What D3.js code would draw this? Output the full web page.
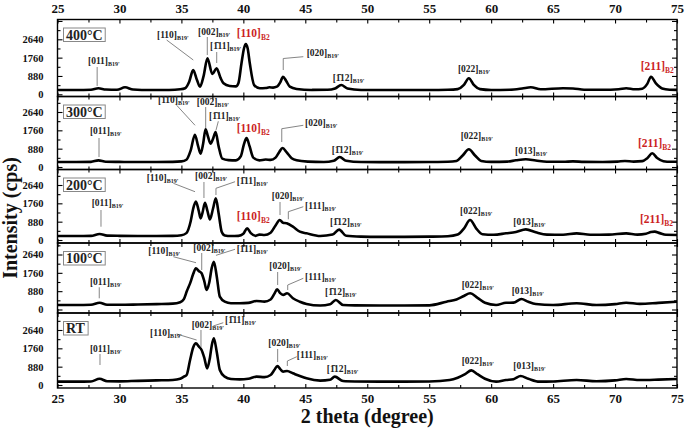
<!DOCTYPE html>
<html>
<head>
<meta charset="utf-8">
<script src="https://cdn.jsdelivr.net/npm/d3@7"></script>
<style>
  body { margin: 0; background: #fff; }
  svg text { font-family: "Liberation Serif", "Times New Roman", serif; font-weight: bold; }
</style>
</head>
<body>
<svg id="chart" width="685" height="432"></svg>
<script>
// sample names, top to bottom
var panelNames = ["400°C", "300°C", "200°C", "100°C", "RT"];

// 2 theta (degree) and intensity (cps)
var theta400 = [25, 26.5, 27.7, 28.3, 28.9, 29.8, 30.45, 31.1, 32.5, 34.0, 34.9, 35.3, 35.63, 35.95, 36.25, 36.5, 36.8, 37.1, 37.5, 37.84, 38.15, 38.4, 38.9, 39.4, 39.6, 39.85, 40.05, 40.2, 40.35, 40.52, 40.87, 41.33, 41.8, 42.1, 42.4, 42.7, 43.0, 43.2, 43.45, 43.75, 44.3, 45.5, 46.8, 47.4, 47.9, 48.4, 49.5, 51, 53, 55, 56.5, 57.3, 57.8, 58.2, 58.6, 59.1, 60, 61.5, 62.5, 63.2, 64, 65.8, 66.6, 67.5, 69, 70.3, 70.9, 71.6, 72.2, 72.6, 72.9, 73.3, 73.8, 74.4, 75];
var int400 = [205, 205, 215, 290, 230, 215, 335, 230, 205, 210, 240, 290, 605, 1165, 700, 365, 900, 1730, 975, 1250, 800, 530, 400, 380, 530, 1490, 2200, 2415, 2200, 1490, 445, 290, 300, 335, 320, 365, 600, 845, 650, 365, 255, 210, 215, 280, 445, 280, 210, 205, 205, 205, 215, 250, 450, 770, 450, 250, 210, 220, 280, 340, 240, 290, 280, 220, 215, 240, 290, 240, 270, 500, 845, 520, 280, 220, 210];

var theta300 = [25, 26.5, 27.7, 28.3, 28.9, 30, 31.5, 33, 34.3, 35.0, 35.4, 35.75, 36.09, 36.35, 36.55, 36.75, 36.95, 37.15, 37.35, 37.55, 37.76, 38.0, 38.3, 38.8, 39.4, 39.8, 40.05, 40.26, 40.5, 40.8, 41.3, 41.8, 42.2, 42.6, 42.9, 43.16, 43.5, 43.9, 44.3, 45.2, 46.5, 47.3, 47.78, 48.3, 49.5, 51, 53, 55, 56.5, 57.2, 57.7, 58.2, 58.7, 59.2, 60, 61.3, 62.0, 62.8, 63.6, 64.5, 65.8, 66.6, 67.5, 69, 70.2, 70.8, 71.5, 72.2, 72.6, 73.0, 73.4, 73.9, 74.5, 75];
var int300 = [240, 240, 245, 320, 250, 245, 240, 240, 245, 270, 350, 800, 1550, 1000, 640, 1100, 1810, 1450, 1120, 1350, 1680, 1000, 400, 330, 320, 520, 1100, 1390, 1000, 450, 320, 360, 340, 450, 720, 910, 700, 420, 320, 260, 240, 300, 480, 300, 240, 235, 235, 240, 250, 290, 550, 850, 550, 290, 245, 260, 320, 370, 310, 250, 250, 270, 245, 240, 260, 290, 260, 280, 420, 660, 430, 280, 250, 250];

var theta200 = [25, 26.5, 27.7, 28.4, 29.0, 30, 31.5, 33, 34.3, 35.0, 35.4, 35.75, 35.95, 36.17, 36.4, 36.55, 36.7, 36.9, 37.1, 37.3, 37.55, 37.78, 38.0, 38.25, 38.5, 39.0, 39.6, 40.0, 40.3, 40.6, 41.0, 41.3, 41.7, 42.2, 42.6, 42.94, 43.2, 43.5, 44.0, 44.56, 45.1, 46.2, 47.2, 47.73, 48.3, 49.5, 51, 53, 55, 56.5, 57.3, 57.8, 58.3, 58.8, 59.3, 60.2, 61.2, 62.0, 62.8, 63.6, 64.5, 65.8, 66.9, 68, 69.5, 70.9, 71.8, 72.5, 72.9, 73.2, 73.6, 74.1, 75];
var int200 = [190, 190, 200, 290, 210, 200, 195, 195, 200, 230, 330, 900, 1500, 1840, 1400, 1040, 1300, 1790, 1400, 990, 1500, 2000, 1300, 400, 220, 190, 200, 300, 560, 330, 200, 260, 240, 350, 700, 960, 830, 800, 640, 400, 320, 190, 260, 500, 200, 160, 150, 150, 160, 180, 260, 550, 960, 550, 280, 250, 320, 380, 510, 370, 260, 250, 320, 250, 260, 320, 260, 300, 380, 400, 330, 250, 240];

var theta100 = [25, 26.5, 27.7, 28.4, 29.0, 30, 31.5, 33, 34.3, 34.9, 35.2, 35.45, 35.7, 35.95, 36.17, 36.4, 36.63, 36.85, 37.03, 37.25, 37.45, 37.62, 37.85, 38.1, 38.5, 39.0, 39.7, 40.4, 41.06, 41.7, 42.2, 42.5, 42.73, 42.95, 43.21, 43.53, 44.0, 44.56, 45.1, 46.2, 47.0, 47.46, 48.05, 49, 51, 53, 55, 56.4, 57.2, 57.8, 58.3, 58.9, 59.5, 60.4, 61.2, 61.8, 62.44, 63.0, 63.6, 65, 66.9, 68.5, 70.0, 70.9, 72, 73.5, 75];
var int100 = [215, 215, 225, 325, 230, 225, 240, 260, 280, 350, 500, 900, 1255, 1700, 1975, 1850, 1740, 1350, 935, 1300, 2000, 2295, 1600, 615, 375, 300, 300, 320, 410, 380, 480, 750, 970, 800, 700, 780, 540, 375, 265, 190, 250, 455, 215, 200, 195, 195, 200, 375, 480, 650, 780, 560, 320, 215, 325, 330, 505, 370, 265, 215, 300, 215, 260, 325, 270, 320, 375];

var thetaRT = [25, 26.5, 27.7, 28.4, 29.0, 30, 31.5, 33, 34.3, 34.9, 35.2, 35.42, 35.7, 35.95, 36.17, 36.4, 36.63, 36.85, 37.08, 37.3, 37.45, 37.62, 37.85, 38.1, 38.5, 39.0, 39.7, 40.4, 41.06, 41.7, 42.2, 42.5, 42.75, 42.98, 43.21, 43.53, 44.0, 44.56, 45.1, 46.2, 47.0, 47.38, 48.05, 49, 51, 53, 55, 56.65, 57.3, 57.9, 58.4, 58.9, 59.5, 60.4, 61.2, 61.8, 62.38, 63.0, 63.9, 65, 66.9, 68.5, 70.0, 70.9, 72, 73.5, 75];
var intRT = [160, 160, 170, 300, 180, 175, 200, 220, 240, 300, 400, 480, 1200, 1800, 2000, 1850, 1680, 1300, 800, 1300, 1900, 2240, 1600, 720, 400, 290, 270, 300, 400, 380, 480, 720, 910, 760, 640, 670, 560, 430, 320, 210, 250, 400, 190, 170, 160, 160, 170, 240, 350, 520, 700, 520, 300, 160, 240, 280, 430, 300, 160, 170, 240, 180, 220, 290, 240, 260, 290];

var thetas = [theta400, theta300, theta200, theta100, thetaRT];
var intensities = [int400, int300, int200, int100, intRT];

// peak labels: [hkl, phase, label 2theta, label cps, leader line points]
var labels400 = [
  ["[011]", "B19'", 27.46, 1455, [[28.2, 400], [28.2, 1310]]],
  ["[110]", "B19'", 33.03, 2700, [[33.81, 2606], [35.96, 1646]]],
  ["[002]", "B19'", 36.34, 2846, [[37.09, 2750], [37.09, 1886]]],
  ["[1\u030411]", "B19'", 37.31, 2174, [[37.85, 2030], [37.85, 1502]]],
  ["[110]", "B2", 39.46, 2750, []],
  ["[020]", "B19'", 45.11, 1838, [[44.84, 1805], [43.22, 1718], [43.22, 1166]]],
  ["[1\u030412]", "B19'", 47.21, 638, []],
  ["[022]", "B19'", 57.32, 1070, []],
  ["[211]", "B2", 72.07, 1166, []]
];
var labels300 = [
  ["[011]", "B19'", 27.62, 1584, [[28.35, 1392], [28.35, 480]]],
  ["[110]", "B19'", 33.11, 3072, [[34.62, 2962], [36.1, 2002]]],
  ["[002]", "B19'", 36.24, 2976, [[36.96, 2880], [36.96, 1872]]],
  ["[1\u030411]", "B19'", 37.23, 2304, [[37.98, 2194], [37.79, 1762]]],
  ["[110]", "B2", 39.46, 1680, []],
  ["[020]", "B19'", 44.98, 1968, [[44.84, 2002], [43.1, 1838], [43.1, 1200]]],
  ["[1\u030412]", "B19'", 47.13, 672, []],
  ["[022]", "B19'", 57.54, 1344, []],
  ["[013]", "B19'", 61.93, 624, []],
  ["[211]", "B2", 71.85, 960, []]
];
var labels200 = [
  ["[011]", "B19'", 27.76, 1632, [[28.51, 1440], [28.51, 638]]],
  ["[110]", "B19'", 32.2, 2832, [[34.35, 2722], [36.1, 2318]]],
  ["[002]", "B19'", 36.1, 2928, [[36.82, 2784], [36.82, 2016]]],
  ["[1\u030411]", "B19'", 39.46, 2688, [[39.33, 2798], [37.79, 2482], [37.79, 2160]]],
  ["[110]", "B2", 39.46, 960, []],
  ["[020]", "B19'", 42.29, 1968, [[42.96, 1824], [42.96, 1200]]],
  ["[111]", "B19'", 44.98, 1488, [[44.84, 1598], [43.63, 1358], [43.63, 994]]],
  ["[1\u030412]", "B19'", 46.99, 720, []],
  ["[022]", "B19'", 57.49, 1248, []],
  ["[013]", "B19'", 61.79, 720, []],
  ["[211]", "B2", 72.01, 816, []]
];
var labels100 = [
  ["[011]", "B19'", 27.62, 1176, [[28.37, 1066], [28.37, 538]]],
  ["[110]", "B19'", 32.33, 2664, [[34.35, 2534], [36.18, 2246]]],
  ["[002]", "B19'", 35.96, 2808, [[36.64, 2712], [36.64, 1896]]],
  ["[1\u030411]", "B19'", 39.46, 2760, [[39.33, 2890], [37.79, 2600]]],
  ["[020]", "B19'", 42.1, 1944, [[42.77, 1800], [42.77, 1176]]],
  ["[111]", "B19'", 44.98, 1416, [[44.84, 1498], [43.58, 1176], [43.58, 936]]],
  ["[1\u030412]", "B19'", 46.59, 696, []],
  ["[022]", "B19'", 57.62, 1032, []],
  ["[013]", "B19'", 61.66, 744, []]
];
var labelsRT = [
  ["[011]", "B19'", 27.62, 1584, [[28.43, 1488], [28.43, 960]]],
  ["[110]", "B19'", 32.47, 2352, [[34.62, 2448], [36.23, 2160]]],
  ["[002]", "B19'", 35.83, 2736, [[36.58, 2640], [36.58, 1824]]],
  ["[1\u030411]", "B19'", 38.52, 2976, [[38.38, 2990], [37.57, 2832], [37.57, 2674]]],
  ["[020]", "B19'", 42.01, 1872, [[42.77, 1728], [42.77, 1104]]],
  ["[111]", "B19'", 44.31, 1296, [[44.31, 1358], [43.55, 1152], [43.55, 912]]],
  ["[1\u030412]", "B19'", 46.73, 624, []],
  ["[022]", "B19'", 57.62, 1008, []],
  ["[013]", "B19'", 61.79, 768, []]
];
var peakLabels = [labels400, labels300, labels200, labels100, labelsRT];

var yTickLabels = [0, 880, 1760, 2640];

// layout (pixels)
var left = 57.5, right = 677;
var panelTop = [19.5, 96.5, 169.5, 243, 313];
var panelBottom = [96.5, 169.5, 243, 313, 388];
var panelZero = [94.3, 167, 240, 309.5, 385];
var pxPer2640 = 55;
var red = "#cc1f1f";

var svg = d3.select("#chart");

var x = d3.scaleLinear().domain([25, 75]).range([left, right]);

var line = d3.line()
    .curve(d3.curveMonotoneX)
    .x(function (d) { return x(d[0]); })
    .y(function (d) { return d[1]; });

var majorX = d3.range(25, 75.01, 5),
    minorX = d3.range(27.5, 75, 5);

panelNames.forEach(function (name, i) {
    var k = 2640 / pxPer2640;
    var y = d3.scaleLinear()
        .domain([-(panelBottom[i] - panelZero[i]) * k, (panelZero[i] - panelTop[i]) * k])
        .range([panelBottom[i], panelTop[i]]);
    var yMax = y.domain()[1];

    var g = svg.append("g").attr("class", "panel");

    g.append("clipPath").attr("id", "clip" + i)
      .append("rect")
        .attr("x", left).attr("y", panelTop[i])
        .attr("width", right - left).attr("height", panelBottom[i] - panelTop[i]);

    // y ticks, inward on both sides
    var yMajor = d3.range(0, yMax, 880),
        yMinor = d3.range(440, yMax, 880);
    g.append("g")
        .attr("transform", "translate(" + left + ",0)")
        .call(d3.axisLeft(y).tickValues(yMajor).tickSizeInner(-5).tickSizeOuter(0).tickPadding(14)
            .tickFormat(function (d) { return yTickLabels.indexOf(d) >= 0 ? d : ""; }))
        .call(styleAxis)
        .selectAll("text").attr("font-size", 10.5);
    g.append("g")
        .attr("transform", "translate(" + left + ",0)")
        .call(d3.axisLeft(y).tickValues(yMinor).tickSizeInner(-3).tickSizeOuter(0).tickFormat(""))
        .call(styleAxis);
    g.append("g")
        .attr("transform", "translate(" + right + ",0)")
        .call(d3.axisRight(y).tickValues(yMajor).tickSizeInner(-5).tickSizeOuter(0).tickFormat(""))
        .call(styleAxis);
    g.append("g")
        .attr("transform", "translate(" + right + ",0)")
        .call(d3.axisRight(y).tickValues(yMinor).tickSizeInner(-3).tickSizeOuter(0).tickFormat(""))
        .call(styleAxis);

    // x ticks on top and bottom edge of every panel
    var topAxis = g.append("g")
        .attr("transform", "translate(0," + panelTop[i] + ")")
        .call(d3.axisTop(x).tickValues(majorX).tickSizeInner(-4).tickSizeOuter(0).tickPadding(7)
            .tickFormat(i === 0 ? d3.format("d") : ""))
        .call(styleAxis);
    topAxis.selectAll("text").attr("font-size", 13);
    g.append("g")
        .attr("transform", "translate(0," + panelTop[i] + ")")
        .call(d3.axisTop(x).tickValues(minorX).tickSizeInner(-3).tickSizeOuter(0).tickFormat(""))
        .call(styleAxis);
    var bottomAxis = g.append("g")
        .attr("transform", "translate(0," + panelBottom[i] + ")")
        .call(d3.axisBottom(x).tickValues(majorX).tickSizeInner(-4).tickSizeOuter(0).tickPadding(6)
            .tickFormat(i === panelNames.length - 1 ? d3.format("d") : ""))
        .call(styleAxis);
    bottomAxis.selectAll("text").attr("font-size", 13);
    g.append("g")
        .attr("transform", "translate(0," + panelBottom[i] + ")")
        .call(d3.axisBottom(x).tickValues(minorX).tickSizeInner(-3).tickSizeOuter(0).tickFormat(""))
        .call(styleAxis);

    // pattern
    g.append("path")
        .datum(d3.zip(thetas[i], intensities[i]).map(function (d) { return [d[0], y(d[1])]; }))
        .attr("clip-path", "url(#clip" + i + ")")
        .attr("fill", "none")
        .attr("stroke", "#000")
        .attr("stroke-width", 2.6)
        .attr("stroke-linejoin", "round")
        .attr("d", line);

    // frame
    g.append("rect")
        .attr("x", left).attr("y", panelTop[i])
        .attr("width", right - left).attr("height", panelBottom[i] - panelTop[i])
        .attr("fill", "none").attr("stroke", "#000").attr("stroke-width", 1.4);

    // sample name in a box
    var nameText = g.append("text")
        .attr("x", left + 8.5)
        .attr("y", panelTop[i] + 20)
        .attr("font-size", 14)
        .attr("fill", "#222")
        .text(name);
    var bb = nameText.node().getBBox();
    g.insert("rect", function () { return nameText.node(); })
        .attr("x", bb.x - 2.5).attr("y", bb.y + 0.5)
        .attr("width", bb.width + 5).attr("height", bb.height - 1.5)
        .attr("fill", "#fff").attr("stroke", "#888").attr("stroke-width", 1);

    // peak labels with leader lines
    peakLabels[i].forEach(function (p) {
        var isB2 = p[1] === "B2";
        if (p[4].length) {
            g.append("path")
                .attr("fill", "none")
                .attr("stroke", "#777")
                .attr("stroke-width", 0.9)
                .attr("d", d3.line()(p[4].map(function (q) { return [x(q[0]), y(q[1])]; })));
        }
        var t = g.append("text")
            .attr("x", x(p[2]))
            .attr("y", y(p[3]))
            .attr("font-size", isB2 ? 11.5 : 9.5)
            .attr("fill", isB2 ? red : "#222");
        t.append("tspan").text(p[0]);
        t.append("tspan")
            .attr("dy", isB2 ? 2.5 : 2)
            .attr("font-size", isB2 ? 7.5 : 6)
            .text(p[1]);
    });
});

function styleAxis(sel) {
    sel.select(".domain").remove();
    sel.selectAll(".tick line").attr("stroke", "#000").attr("stroke-width", 1.1);
    sel.selectAll("text").attr("fill", "#111").style("font-family", null);
}

// axis titles
svg.append("text")
    .attr("x", (left + right) / 2)
    .attr("y", 423)
    .attr("text-anchor", "middle")
    .attr("font-size", 20)
    .attr("fill", "#111")
    .text("2 theta (degree)");

svg.append("text")
    .attr("transform", "translate(17,218) rotate(-90)")
    .attr("text-anchor", "middle")
    .attr("font-size", 20)
    .attr("fill", "#111")
    .text("Intensity (cps)");
</script>
</body>
</html>
